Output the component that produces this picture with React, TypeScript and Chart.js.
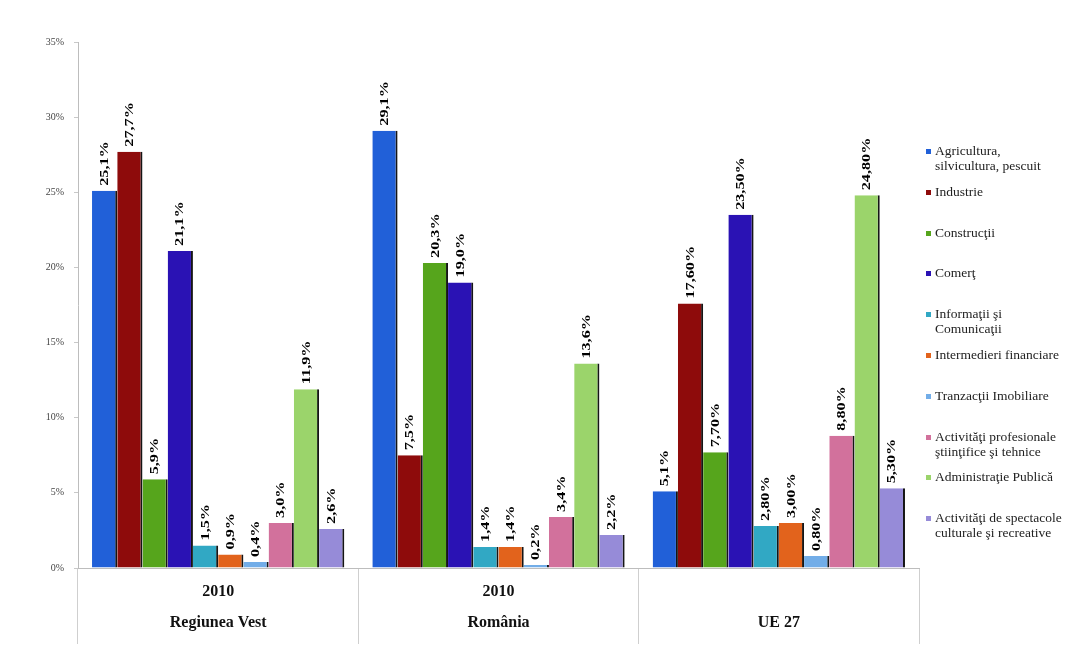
import React, { useEffect, useRef } from 'react';
import { Chart, registerables } from 'chart.js';
Chart.register(...registerables);

const categories = [['2010', 'Regiunea Vest'], ['2010', 'România'], ['', 'UE 27']];

const seriesNames = [
  ['Agricultura,', 'silvicultura, pescuit'],
  ['Industrie'],
  ['Construcţii'],
  ['Comerţ'],
  ['Informaţii şi', 'Comunicaţii'],
  ['Intermedieri financiare'],
  ['Tranzacţii Imobiliare'],
  ['Activităţi profesionale', 'ştiinţifice şi tehnice'],
  ['Administraţie Publică'],
  ['Activităţi de spectacole', 'culturale şi recreative'],
];

const agricultura = [25.1, 29.1, 5.1];
const industrie = [27.7, 7.5, 17.6];
const constructii = [5.9, 20.3, 7.7];
const comert = [21.1, 19.0, 23.5];
const informatii = [1.5, 1.4, 2.8];
const intermedieri = [0.9, 1.4, 3.0];
const tranzactii = [0.4, 0.2, 0.8];
const activitatiProf = [3.0, 3.4, 8.8];
const administratie = [11.9, 13.6, 24.8];
const activitatiSpect = [2.6, 2.2, 5.3];

const seriesValues = [
  agricultura, industrie, constructii, comert, informatii,
  intermedieri, tranzactii, activitatiProf, administratie, activitatiSpect,
];

const labelsVest = ['25,1%', '27,7%', '5,9%', '21,1%', '1,5%', '0,9%', '0,4%', '3,0%', '11,9%', '2,6%'];
const labelsRomania = ['29,1%', '7,5%', '20,3%', '19,0%', '1,4%', '1,4%', '0,2%', '3,4%', '13,6%', '2,2%'];
const labelsUE = ['5,1%', '17,60%', '7,70%', '23,50%', '2,80%', '3,00%', '0,80%', '8,80%', '24,80%', '5,30%'];
const valueLabels = [labelsVest, labelsRomania, labelsUE];

const yTicks = [0, 5, 10, 15, 20, 25, 30, 35];

const seriesColors = [
  '#2160d8', '#8e0b0b', '#56a51c', '#2a12b4', '#31a8c4',
  '#e2631c', '#72ade8', '#d2719c', '#9bd46b', '#968bd8',
];

const SERIF = '"Liberation Serif", "Times New Roman", serif';

const barLabelPlugin = {
  id: 'barLabels',
  afterDatasetsDraw(chart: any) {
    const ctx = chart.ctx;
    ctx.save();
    ctx.font = 'bold 12px ' + SERIF;
    ctx.fillStyle = '#000';
    chart.data.datasets.forEach((_ds: any, i: number) => {
      const meta = chart.getDatasetMeta(i);
      meta.data.forEach((bar: any, j: number) => {
        const text = valueLabels[j][i];
        ctx.save();
        ctx.translate(bar.x, bar.y - 5);
        ctx.rotate(-Math.PI / 2);
        ctx.scale(1.35, 1);
        ctx.textAlign = 'left';
        ctx.textBaseline = 'middle';
        ctx.fillText(text, 0, 0);
        ctx.restore();
      });
    });
    ctx.restore();
  },
};

export default function App() {
  const canvasRef = useRef<HTMLCanvasElement | null>(null);

  useEffect(() => {
    if (!canvasRef.current) return;
    const chart = new Chart(canvasRef.current, {
      type: 'bar',
      data: {
        labels: categories,
        datasets: seriesValues.map((vals, i) => ({
          label: seriesNames[i].join(' '),
          data: vals,
          backgroundColor: seriesColors[i],
          borderColor: '#151515',
          borderWidth: { top: 0, right: 2, bottom: 0, left: 0 },
          borderSkipped: false,
          barPercentage: 1,
          categoryPercentage: 0.9,
        })),
      },
      options: {
        responsive: false,
        animation: false,
        layout: { padding: { top: 34, right: 145, bottom: 0, left: 0 } },
        plugins: {
          legend: { display: false },
          tooltip: { enabled: false },
        },
        scales: {
          x: {
            grid: {
              offset: true,
              drawOnChartArea: false,
              drawTicks: true,
              tickLength: 76,
              color: '#cfcfcf',
            },
            border: { color: '#bdbdbd' },
            ticks: {
              padding: -67,
              color: '#111',
              font: { family: SERIF, size: 16, weight: 'bold', lineHeight: 1.9 },
              maxRotation: 0,
              autoSkip: false,
            },
            afterFit: (s: any) => { s.height = 82; },
          },
          y: {
            min: 0,
            max: 35,
            afterBuildTicks: (s: any) => { s.ticks = yTicks.map((v) => ({ value: v })); },
            grid: { drawOnChartArea: false, tickLength: 4, color: '#c8c8c8' },
            border: { color: '#bdbdbd' },
            ticks: {
              padding: 10,
              color: '#444',
              font: { family: SERIF, size: 10 },
              callback: (v: any) => v + '%',
            },
            afterFit: (s: any) => { s.width = 70; },
          },
        },
      },
      plugins: [barLabelPlugin],
    });
    return () => chart.destroy();
  }, []);

  return (
    <div style={{ position: 'relative', width: 1056, height: 642, overflow: 'hidden', boxSizing: 'border-box' }}>
      <canvas ref={canvasRef} width={1056} height={642} style={{ display: 'block' }} />
      <div
        style={{
          position: 'absolute',
          left: 918,
          top: 135,
          width: 150,
          fontFamily: SERIF,
          fontSize: 13.5,
          color: '#222',
        }}
      >
        {seriesNames.map((lines, i) => (
          <div key={i} style={{ height: 40.8, display: 'flex', alignItems: 'flex-start' }}>
            <div
              style={{
                width: 5,
                height: 5,
                background: seriesColors[i],
                marginTop: 6,
                marginRight: 4,
                flex: '0 0 auto',
              }}
            />
            <div style={{ lineHeight: '15px', whiteSpace: 'nowrap' }}>
              {lines.map((l, k) => (
                <div key={k}>{l}</div>
              ))}
            </div>
          </div>
        ))}
      </div>
    </div>
  );
}
